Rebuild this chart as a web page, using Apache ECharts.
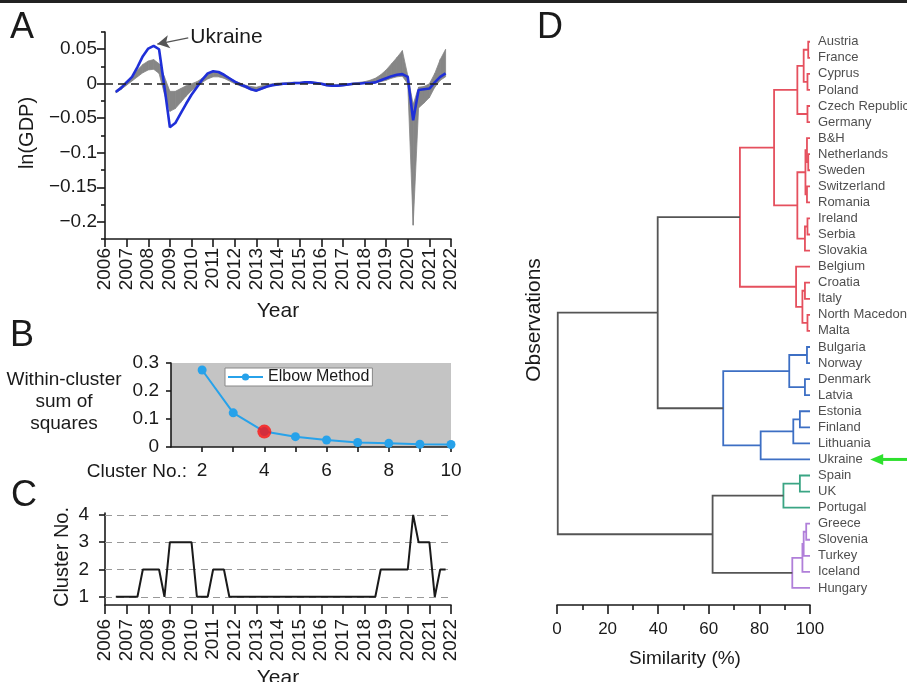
<!DOCTYPE html>
<html><head><meta charset="utf-8">
<script src="https://cdn.jsdelivr.net/npm/echarts@6/dist/echarts.min.js"></script>
<style>html,body{margin:0;padding:0;background:#fff}#c{width:907px;height:682px}</style>
</head><body><div id="c"></div>
<script>
// ---------- Panel A / C : quarterly time axis ----------
const quarters = [2006.5,2006.75,
  2007,2007.25,2007.5,2007.75, 2008,2008.25,2008.5,2008.75, 2009,2009.25,2009.5,2009.75,
  2010,2010.25,2010.5,2010.75, 2011,2011.25,2011.5,2011.75, 2012,2012.25,2012.5,2012.75,
  2013,2013.25,2013.5,2013.75, 2014,2014.25,2014.5,2014.75, 2015,2015.25,2015.5,2015.75,
  2016,2016.25,2016.5,2016.75, 2017,2017.25,2017.5,2017.75, 2018,2018.25,2018.5,2018.75,
  2019,2019.25,2019.5,2019.75, 2020,2020.25,2020.5,2020.75, 2021,2021.25,2021.5,2021.75];
const ukraineGDP = [-0.012,-0.006,
  0.002,0.010,0.024,0.040, 0.051,0.055,0.050,-0.005, -0.063,-0.057,-0.043,-0.029,
  -0.016,-0.005,0.006,0.015, 0.018,0.017,0.013,0.008, 0.003,-0.001,-0.004,-0.008,
  -0.010,-0.007,-0.004,-0.002, -0.001,0.000,0.000,0.001, 0.001,0.002,0.002,0.001,
  0.000,-0.002,-0.003,-0.003, -0.002,-0.001,0.000,0.000, 0.001,0.001,0.002,0.005,
  0.008,0.011,0.013,0.014, 0.010,-0.053,-0.009,-0.008, -0.007,0.002,0.010,0.015];
const bandUpper = [-0.010,-0.004,
  0.004,0.010,0.020,0.028, 0.033,0.035,0.029,0.010, -0.011,-0.011,-0.007,-0.003,
  0.000,0.003,0.008,0.014, 0.018,0.017,0.014,0.009, 0.004,0.001,-0.002,-0.004,
  -0.005,-0.003,-0.001,0.000, 0.001,0.001,0.002,0.002, 0.002,0.003,0.003,0.002,
  0.001,0.000,-0.001,-0.001, 0.000,0.000,0.001,0.002, 0.003,0.005,0.008,0.013,
  0.020,0.029,0.038,0.048, 0.012,-0.030,-0.005,-0.004, 0.000,0.015,0.035,0.050];
const bandLower = [-0.013,-0.008,
  -0.002,0.004,0.010,0.016, 0.020,0.021,0.015,-0.015, -0.040,-0.036,-0.027,-0.018,
  -0.010,-0.004,0.002,0.007, 0.010,0.010,0.008,0.004, 0.000,-0.003,-0.006,-0.009,
  -0.011,-0.008,-0.005,-0.003, -0.002,-0.001,-0.001,0.000, 0.000,0.001,0.001,0.000,
  -0.001,-0.003,-0.004,-0.004, -0.003,-0.002,-0.001,0.000, 0.000,0.000,0.001,0.003,
  0.005,0.008,0.010,0.011, 0.000,-0.205,-0.035,-0.028, -0.020,-0.005,0.005,0.010];
const clusterNo = [1,1,
  1,1,1,2, 2,2,2,1, 3,3,3,3, 3,1,1,1, 2,2,2,1,
  1,1,1,1, 1,1,1,1, 1,1,1,1, 1,1,1,1, 1,1,1,1, 1,1,1,1,
  1,1,1,2, 2,2,2,2, 2,4,3,3, 3,1,2,2];
const gdpTicks = [-0.2,-0.15,-0.1,-0.05,0,0.05];
const gdpMinorTicks = [-0.225,-0.175,-0.125,-0.075,-0.025,0.025,0.075];
const clusterTicks = [1,2,3,4];

// ---------- Panel B : elbow method ----------
const elbowK = [2,3,4,5,6,7,8,9,10];
const elbowWCSS = [0.275,0.122,0.055,0.037,0.025,0.016,0.013,0.010,0.009];
const chosenK = 4;

// ---------- Panel D : dendrogram ----------
const countries = ['Austria','France','Cyprus','Poland','Czech Republic','Germany','B&H','Netherlands',
  'Sweden','Switzerland','Romania','Ireland','Serbia','Slovakia','Belgium','Croatia','Italy',
  'North Macedonia','Malta','Bulgaria','Norway','Denmark','Latvia','Estonia','Finland','Lithuania',
  'Ukraine','Spain','UK','Portugal','Greece','Slovenia','Turkey','Iceland','Hungary'];
// [childA, childB, similarity %]; ids >= 35 refer to earlier merges (35 + row)
const linkage = [
  [0,1,99.3],[2,3,99.0],[35,36,97.5],[4,5,99.0],[37,38,95.0],
  [7,8,99.3],[6,40,98.8],[9,10,98.8],[41,42,98.2],[11,12,99.0],[44,13,98.0],[43,45,95.0],
  [39,46,85.8],[15,16,98.0],[17,18,99.0],[48,49,97.0],[14,50,94.5],[47,51,72.3],
  [19,20,98.8],[21,22,98.0],[53,54,91.8],[23,24,96.0],[56,25,93.4],[57,26,80.5],[55,58,65.7],
  [52,59,39.8],
  [27,28,96.0],[61,29,89.5],[30,31,98.5],[63,32,97.5],[64,33,97.0],[65,34,93.0],[62,66,61.5],
  [60,67,0.3]];
const linkCluster = ['r','r','r','r','r','r','r','r','r','r','r','r','r','r','r','r','r','r',
  'b','b','b','b','b','b','b','k','g','g','p','p','p','p','k','k'];
const highlighted = 'Ukraine';

const palette = {r:'#e5505e', b:'#3d6fc4', g:'#3aa584', p:'#b07fd9', k:'#555555'};
const font = '"Liberation Sans", Arial, Helvetica, sans-serif';
const ink = '#1a1a1a';

// node layout for dendrogram
const nodeX = countries.map(() => 100);
const nodeY = countries.map((_, i) => i);
linkage.forEach(([a, b, s]) => { nodeX.push(s); nodeY.push((nodeY[a] + nodeY[b]) / 2); });
const linkData = linkage.map(([a, b, s], k) => ({
  value: [nodeX[a], nodeY[a], s, nodeX[b], nodeY[b]],
  itemStyle: { color: palette[linkCluster[k]] }
}));
const leafData = countries.map((n, i) => ({ name: n, value: [100, i] }));
const ukIdx = countries.indexOf(highlighted);

// band segments (quads between consecutive quarters)
const bandData = quarters.slice(0, -1).map((q, i) =>
  [q, bandLower[i], bandUpper[i], quarters[i + 1], bandLower[i + 1], bandUpper[i + 1]]);

const lineC = { color: ink, width: 1.6 };
const yrLabel = v => String(v);
const minus = v => String(+v.toFixed(3)).replace('-', '\u2212');

const option = {
  animation: false,
  backgroundColor: '#fff',
  textStyle: { fontFamily: font },
  grid: [
    { left: 105, top: 32, width: 346, height: 207, outerBoundsMode: 'none' },
    { left: 171, top: 363, width: 280, height: 84, show: true, backgroundColor: '#c4c4c4', borderWidth: 0, outerBoundsMode: 'none' },
    { left: 105, top: 513, width: 346, height: 92, outerBoundsMode: 'none' },
    { left: 557, top: 30, width: 253, height: 575, outerBoundsMode: 'none' }
  ],
  legend: {
    data: ['Elbow Method'], left: 225, top: 368, backgroundColor: '#fff', borderColor: '#888', borderWidth: 1,
    padding: [1, 3, 1, 2], itemWidth: 35, itemHeight: 9, itemGap: 3,
    textStyle: { fontSize: 16, color: ink, fontFamily: font }
  },
  xAxis: [
    { type: 'value', gridIndex: 0, min: 2006, max: 2022, interval: 1,
      axisLine: { onZero: false, lineStyle: lineC }, axisTick: { length: 8, lineStyle: lineC }, splitLine: { show: false },
      axisLabel: { rotate: 90, formatter: yrLabel, fontSize: 19, color: ink, margin: 9, fontFamily: font } },
    { type: 'value', gridIndex: 1, min: 1, max: 10, interval: 1,
      axisLine: { onZero: false, lineStyle: lineC }, axisTick: { length: 5, lineStyle: lineC }, splitLine: { show: false },
      axisLabel: { formatter: v => (v % 2 === 0 ? String(v) : ''), fontSize: 19, color: ink, margin: 14, fontFamily: font, showMinLabel: false } },
    { type: 'value', gridIndex: 2, min: 2006, max: 2022, interval: 1,
      axisLine: { onZero: false, lineStyle: lineC }, axisTick: { length: 9, lineStyle: lineC }, splitLine: { show: false },
      axisLabel: { rotate: 90, formatter: yrLabel, fontSize: 19, color: ink, margin: 14, fontFamily: font } },
    { type: 'value', gridIndex: 3, min: 0, max: 100, interval: 20, position: 'bottom',
      axisLine: { onZero: false, lineStyle: lineC }, axisTick: { length: 9, lineStyle: lineC },
      minorTick: { show: true, splitNumber: 2, length: 5, lineStyle: lineC }, splitLine: { show: false }, minorSplitLine: { show: false },
      axisLabel: { fontSize: 17, color: ink, margin: 16, fontFamily: font } }
  ],
  yAxis: [
    { type: 'value', gridIndex: 0, min: -0.225, max: 0.075,
      axisLine: { show: true, onZero: false, lineStyle: lineC }, splitLine: { show: false },
      axisTick: { show: true, length: 8, lineStyle: lineC, customValues: gdpTicks },
      axisLabel: { customValues: gdpTicks, formatter: minus, fontSize: 19, color: ink, margin: 8, fontFamily: font } },
    { type: 'value', gridIndex: 0, min: -0.225, max: 0.075, position: 'left',
      axisLine: { show: false, onZero: false }, splitLine: { show: false }, axisLabel: { show: false },
      axisTick: { show: true, length: 4, lineStyle: lineC, customValues: gdpMinorTicks } },
    { type: 'value', gridIndex: 1, min: 0, max: 0.3, interval: 0.1,
      axisLine: { show: true, onZero: false, lineStyle: lineC }, splitLine: { show: false },
      axisTick: { show: true, length: 5, lineStyle: lineC },
      axisLabel: { formatter: v => String(+v.toFixed(2)), fontSize: 19, color: ink, margin: 12, fontFamily: font } },
    { type: 'value', gridIndex: 2, min: 0.7, max: 4.07,
      axisLine: { show: true, onZero: false, lineStyle: lineC }, splitLine: { show: false },
      axisTick: { show: true, length: 6, lineStyle: lineC, customValues: clusterTicks },
      axisLabel: { customValues: clusterTicks, fontSize: 19, color: ink, margin: 16, fontFamily: font } },
    { type: 'value', gridIndex: 3, min: -0.73, max: 35.06, inverse: true, show: false }
  ],
  series: [
    // Panel A: grey band spanned by all countries
    { type: 'custom', xAxisIndex: 0, yAxisIndex: 0, data: bandData, z: 2,
      encode: { x: [0, 3], y: [1, 2, 4, 5] },
      renderItem: (params, api) => {
        const p = [api.coord([api.value(0), api.value(2)]), api.coord([api.value(3), api.value(5)]),
                   api.coord([api.value(3), api.value(4)]), api.coord([api.value(0), api.value(1)])];
        return { type: 'polygon', shape: { points: p }, style: { fill: '#868686', stroke: '#868686', lineWidth: 0.8 } };
      },
      markLine: { silent: true, symbol: 'none', z: 20, label: { show: false },
        lineStyle: { color: '#222', width: 1.6, type: [8, 5] }, data: [{ yAxis: 0 }] } },
    // Panel A: Ukraine
    { type: 'line', name: 'Ukraine', xAxisIndex: 0, yAxisIndex: 0, symbol: 'none', z: 5,
      lineStyle: { width: 2.6, color: '#1f2fd8' }, data: quarters.map((q, i) => [q, ukraineGDP[i]]),
      markLine: { silent: true, z: 21, symbol: ['none', 'arrow'], symbolSize: [10, 12],
        lineStyle: { color: '#555', width: 1.2, type: 'solid' },
        label: { show: true, position: 'start', formatter: 'Ukraine', fontSize: 21, color: ink, distance: 2, fontFamily: font },
        data: [[{ coord: [2009.85, 0.0665] }, { coord: [2008.42, 0.0575] }]] } },
    // Panel B: elbow
    { type: 'line', name: 'Elbow Method', xAxisIndex: 1, yAxisIndex: 2, symbol: 'circle', symbolSize: 9,
      itemStyle: { color: '#27a2ea' }, lineStyle: { width: 2, color: '#27a2ea' },
      data: elbowK.map((k, i) => [k, elbowWCSS[i]]) },
    { type: 'scatter', xAxisIndex: 1, yAxisIndex: 2, symbolSize: 14, z: 6, itemStyle: { color: '#ff1010' },
      data: [[chosenK, elbowWCSS[elbowK.indexOf(chosenK)]]] },
    // Panel C: cluster membership
    { type: 'line', xAxisIndex: 2, yAxisIndex: 3, symbol: 'none', z: 5,
      lineStyle: { width: 2, color: ink }, data: quarters.map((q, i) => [q, clusterNo[i]]),
      markLine: { silent: true, symbol: 'none', label: { show: false }, z: 1,
        lineStyle: { color: '#999', width: 1.2, type: [7, 5] }, data: clusterTicks.map(v => ({ yAxis: v })) } },
    // Panel D: dendrogram links
    { type: 'custom', xAxisIndex: 3, yAxisIndex: 4, clip: false, data: linkData,
      encode: { x: [0, 2, 3], y: [1, 4] },
      renderItem: (params, api) => {
        const a = api.coord([api.value(0), api.value(1)]);
        const b = api.coord([api.value(2), api.value(1)]);
        const c = api.coord([api.value(2), api.value(4)]);
        const d = api.coord([api.value(3), api.value(4)]);
        return { type: 'polyline', shape: { points: [a, b, c, d] },
          style: { stroke: api.visual('color'), lineWidth: 1.8, fill: 'none' } };
      } },
    // Panel D: leaf labels
    { type: 'scatter', xAxisIndex: 3, yAxisIndex: 4, symbolSize: 0, clip: false, data: leafData,
      label: { show: true, position: 'right', distance: 8, formatter: p => p.name, fontSize: 13, color: '#222', fontFamily: font } },
    // Panel D: green arrow pointing at Ukraine
    { type: 'custom', xAxisIndex: 3, yAxisIndex: 4, clip: false, silent: true, z: 10,
      data: [[140, ukIdx, 123.8]], encode: { x: [0, 2], y: 1 },
      renderItem: (params, api) => {
        const s = api.coord([api.value(0), api.value(1)]);
        const t = api.coord([api.value(2), api.value(1)]);
        return { type: 'group', children: [
          { type: 'line', shape: { x1: s[0], y1: s[1], x2: t[0] + 10, y2: t[1] }, style: { stroke: '#2ee02e', lineWidth: 3 } },
          { type: 'polygon', shape: { points: [[t[0], t[1]], [t[0] + 13, t[1] - 5.5], [t[0] + 13, t[1] + 5.5]] }, style: { fill: '#2ee02e' } }
        ] };
      } }
  ],
  graphic: [
    { type: 'rect', shape: { x: 0, y: 0, width: 907, height: 3 }, style: { fill: '#222' } },
    { type: 'text', x: 22, y: 28, style: { text: 'A', fontSize: 36, fontFamily: font, fill: ink, align: 'center', verticalAlign: 'middle', textAlign: 'center', textVerticalAlign: 'middle' } },
    { type: 'text', x: 22, y: 336, style: { text: 'B', fontSize: 36, fontFamily: font, fill: ink, align: 'center', verticalAlign: 'middle', textAlign: 'center', textVerticalAlign: 'middle' } },
    { type: 'text', x: 24, y: 496, style: { text: 'C', fontSize: 36, fontFamily: font, fill: ink, align: 'center', verticalAlign: 'middle', textAlign: 'center', textVerticalAlign: 'middle' } },
    { type: 'text', x: 550, y: 28, style: { text: 'D', fontSize: 36, fontFamily: font, fill: ink, align: 'center', verticalAlign: 'middle', textAlign: 'center', textVerticalAlign: 'middle' } },
    { type: 'text', x: 27, y: 133, rotation: Math.PI / 2, style: { text: 'ln(GDP)', fontSize: 20, fontFamily: font, fill: ink, align: 'center', verticalAlign: 'middle', textAlign: 'center', textVerticalAlign: 'middle' } },
    { type: 'text', x: 278, y: 311, style: { text: 'Year', fontSize: 21, fontFamily: font, fill: ink, align: 'center', verticalAlign: 'middle', textAlign: 'center', textVerticalAlign: 'middle' } },
    { type: 'text', x: 64, y: 402, style: { text: 'Within-cluster\nsum of\nsquares', lineHeight: 22, fontSize: 19, fontFamily: font, fill: ink, align: 'center', verticalAlign: 'middle', textAlign: 'center', textVerticalAlign: 'middle' } },
    { type: 'text', x: 187, y: 472, style: { text: 'Cluster No.:', fontSize: 19, fontFamily: font, fill: ink, align: 'right', verticalAlign: 'middle', textAlign: 'right', textVerticalAlign: 'middle' } },
    { type: 'text', x: 62, y: 557, rotation: Math.PI / 2, style: { text: 'Cluster No.', fontSize: 20, fontFamily: font, fill: ink, align: 'center', verticalAlign: 'middle', textAlign: 'center', textVerticalAlign: 'middle' } },
    { type: 'text', x: 278, y: 678, style: { text: 'Year', fontSize: 21, fontFamily: font, fill: ink, align: 'center', verticalAlign: 'middle', textAlign: 'center', textVerticalAlign: 'middle' } },
    { type: 'text', x: 534, y: 320, rotation: Math.PI / 2, style: { text: 'Observations', fontSize: 21, fontFamily: font, fill: ink, align: 'center', verticalAlign: 'middle', textAlign: 'center', textVerticalAlign: 'middle' } },
    { type: 'text', x: 685, y: 659, style: { text: 'Similarity (%)', fontSize: 19, fontFamily: font, fill: ink, align: 'center', verticalAlign: 'middle', textAlign: 'center', textVerticalAlign: 'middle' } }
  ]
};
const chart = echarts.init(document.getElementById('c'), null, { renderer: 'canvas' });
chart.setOption(option);
</script></body></html>
